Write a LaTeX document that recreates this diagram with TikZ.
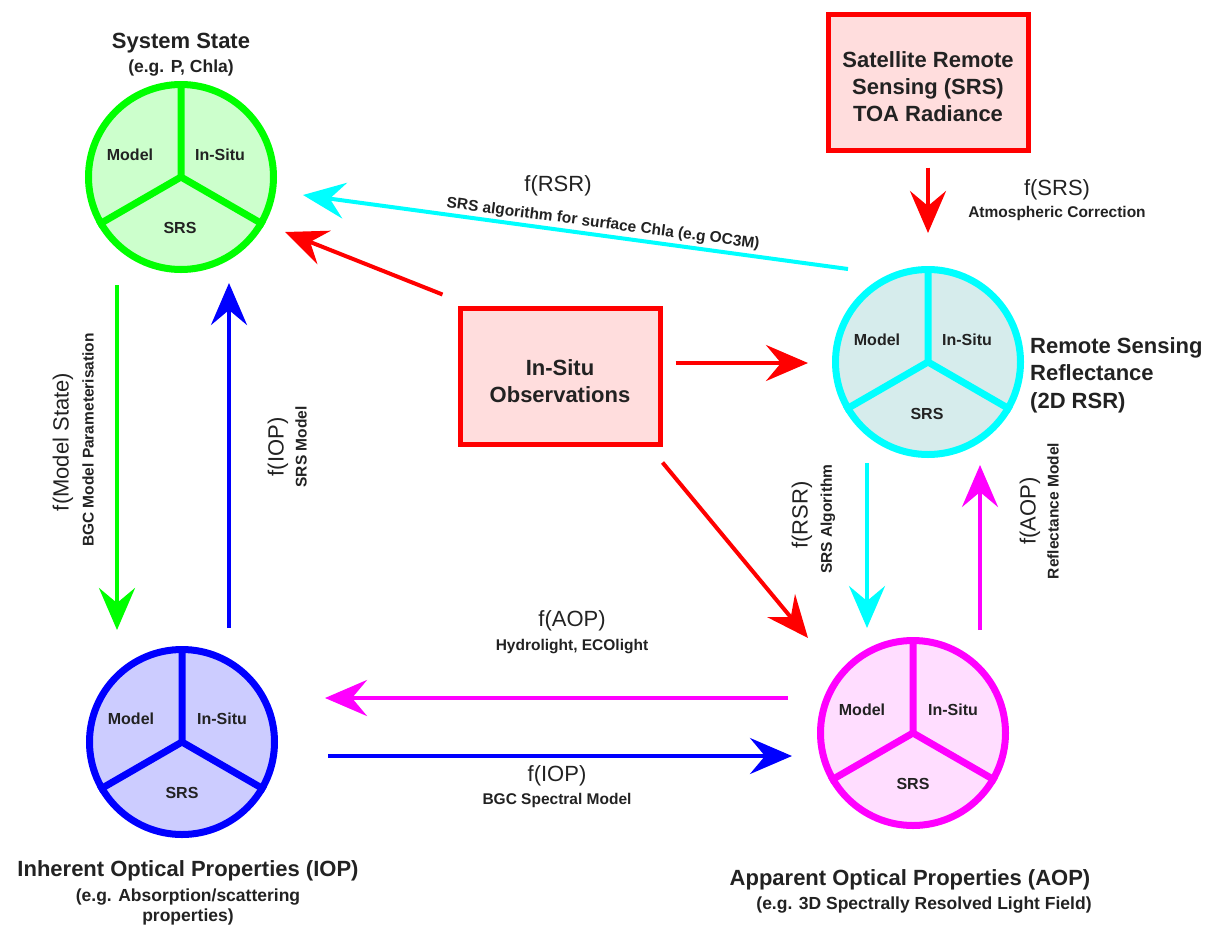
\documentclass[tikz,border=0pt]{standalone}
\usepackage{fontspec}
\setmainfont{Liberation Sans}
\usepackage{xcolor}
\usetikzlibrary{arrows.meta, positioning, calc}

\definecolor{ink}{HTML}{222222}
\definecolor{lineGreen}{HTML}{00FF00}
\definecolor{lineCyan}{HTML}{00FFFF}
\definecolor{lineBlue}{HTML}{0000FF}
\definecolor{lineMagenta}{HTML}{FF00FF}
\definecolor{lineRed}{HTML}{FF0000}
\definecolor{greenfill}{HTML}{CCFFCC}
\definecolor{cyanfill}{HTML}{D6ECEC}
\definecolor{bluefill}{HTML}{CCCCFF}
\definecolor{magentafill}{HTML}{FFDDFF}
\definecolor{boxfill}{HTML}{FFDDDD}

\begin{document}
\begin{tikzpicture}[
  x=1pt, y=-1pt,
  every node/.style={text=ink, inner sep=0pt},
  state/.style={
    circle,
    draw=#1,
    line width=7pt,
    minimum size=185pt,
  },
  spoke/.style={draw=#1, line width=7pt},
  source/.style={
    rectangle,
    draw=lineRed,
    fill=boxfill,
    line width=5pt,
    minimum width=200pt,
    minimum height=136pt,
    align=center,
    font=\bfseries\fontsize{22}{27}\selectfont,
  },
  part/.style={font=\bfseries\fontsize{16}{19}\selectfont},
  title/.style={font=\bfseries\fontsize{22}{27.5}\selectfont},
  subtitle/.style={font=\bfseries\fontsize{17.5}{20}\selectfont, align=center},
  func/.style={font=\fontsize{22}{26}\selectfont},
  method/.style={font=\bfseries\fontsize{15.5}{18}\selectfont},
  arrow/.style={draw=#1, line width=4pt, -{Stealth[length=42pt, width=36pt, inset=15pt]}}
]
\useasboundingbox (0,0) rectangle (1218,924);

% ===== STATE CIRCLES =====
\node[state=lineGreen, fill=greenfill] (sys) at (181,177) {};
\draw[spoke=lineGreen] (sys.90) -- (sys.center) -- (sys.210) (sys.330) -- (sys.center) -- (sys.90);
\node[part] at ([shift={(-51,-22)}]sys.center) {Model};
\node[part] at ([shift={(39,-22)}]sys.center) {In-Situ};
\node[part] at ([shift={(-1,51)}]sys.center) {SRS};

\node[state=lineCyan, fill=cyanfill] (rsr) at (928,362) {};
\draw[spoke=lineCyan] (rsr.90) -- (rsr.center) -- (rsr.210) (rsr.330) -- (rsr.center) -- (rsr.90);
\node[part] at ([shift={(-51,-22)}]rsr.center) {Model};
\node[part] at ([shift={(39,-22)}]rsr.center) {In-Situ};
\node[part] at ([shift={(-1,52)}]rsr.center) {SRS};

\node[state=lineBlue, fill=bluefill] (iop) at (182,742) {};
\draw[spoke=lineBlue] (iop.90) -- (iop.center) -- (iop.210) (iop.330) -- (iop.center) -- (iop.90);
\node[part] at ([shift={(-51,-23)}]iop.center) {Model};
\node[part] at ([shift={(40,-23)}]iop.center) {In-Situ};
\node[part] at ([shift={(0,51)}]iop.center) {SRS};

\node[state=lineMagenta, fill=magentafill] (aop) at (913,733) {};
\draw[spoke=lineMagenta] (aop.90) -- (aop.center) -- (aop.210) (aop.330) -- (aop.center) -- (aop.90);
\node[part] at ([shift={(-51,-23)}]aop.center) {Model};
\node[part] at ([shift={(40,-23)}]aop.center) {In-Situ};
\node[part] at ([shift={(0,51)}]aop.center) {SRS};

% ===== TITLES =====
\node[subtitle, above=5pt of sys] (syssub) {(e.g. P, Chla)};
\node[title, above=6pt of syssub] (systitle) {System State};

\node[title, align=left, anchor=west] (rsrtitle) at ([shift={(6,13)}]rsr.east) {Remote Sensing\\Reflectance\\(2D RSR)};

\node[title, below=22pt of iop, xshift=6pt] (ioptitle) {Inherent Optical Properties (IOP)};
\node[subtitle, below=8pt of ioptitle] (iopsub) {(e.g. Absorption/scattering\\properties)};

\node[title, below=40pt of aop, xshift=-3pt] (aoptitle) {Apparent Optical Properties (AOP)};
\node[subtitle, below=7pt of aoptitle, xshift=14pt] (aopsub) {(e.g. 3D Spectrally Resolved Light Field)};

% ===== OBSERVATION SOURCES =====
\node[source, text height=79pt] (srs) at (928,82) {Satellite Remote\\Sensing (SRS)\\TOA Radiance};
\node[source, text height=53pt] (insitu) at (560,376) {In-Situ\\Observations};

% ===== ARROWS =====
\draw[arrow=lineRed] ([shift={(0,15)}]srs.south) -- ([shift={(0,-33)}]rsr.north);
\draw[arrow=lineCyan] ([shift={(-80,-93)}]rsr.center) -- ([shift={(122,18)}]sys.center);
\draw[arrow=lineRed] ([shift={(-15,-11)}]insitu.north west) -- ([shift={(104,55)}]sys.center);
\draw[arrow=lineRed] ([shift={(13,-13)}]insitu.east) -- ([shift={(-120,1)}]rsr.center);
\draw[arrow=lineRed] ([shift={(0,16)}]insitu.south east) -- ([shift={(-105,-95)}]aop.center);
\draw[arrow=lineGreen] ([shift={(-64,108)}]sys.center) -- ([shift={(-65,-112)}]iop.center);
\draw[arrow=lineBlue] ([shift={(47,-114)}]iop.center) -- ([shift={(48,106)}]sys.center);
\draw[arrow=lineMagenta] ([shift={(-125,-35)}]aop.center) -- ([shift={(143,-44)}]iop.center);
\draw[arrow=lineBlue] ([shift={(146,14)}]iop.center) -- ([shift={(-121,23)}]aop.center);
\draw[arrow=lineCyan] ([shift={(-61,101)}]rsr.center) -- ([shift={(-46,-105)}]aop.center);
\draw[arrow=lineMagenta] ([shift={(67,-103)}]aop.center) -- ([shift={(52,103)}]rsr.center);

% ===== ARROW LABELS =====
\node[func] at (1057,190) {f(SRS)};
\node[method] at (1057,213) {Atmospheric Correction};

\node[func] at (558,186) {f(RSR)};
\node[method, rotate=-7.5] at (603,224) {SRS algorithm for surface Chla (e.g OC3M)};

\node[func, rotate=90] at (63,442) {f(Model State)};
\node[method, rotate=90] at (88,440) {BGC Model Parameterisation};

\node[func, rotate=90] at (278,447) {f(IOP)};
\node[method, rotate=90] at (301,447) {SRS Model};

\node[func] at (572,621) {f(AOP)};
\node[method] at (572,647) {Hydrolight, ECOlight};

\node[func] at (557,776) {f(IOP)};
\node[method] at (557,800) {BGC Spectral Model};

\node[func, rotate=90] at (802,515) {f(RSR)};
\node[method, rotate=90] at (828,519) {SRS Algorithm};

\node[func, rotate=90] at (1030,511) {f(AOP)};
\node[method, rotate=90] at (1053,511) {Reflectance Model};

\end{tikzpicture}
\end{document}
